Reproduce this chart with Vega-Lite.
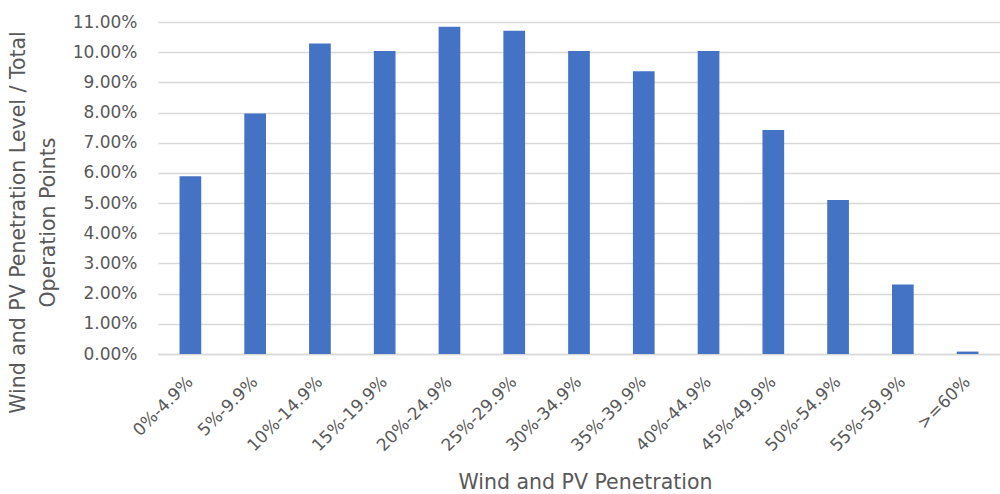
{
  "$schema": "https://vega.github.io/schema/vega-lite/v6.json",
  "width": 842,
  "height": 332,
  "autosize": "none",
  "padding": {"left": 158, "top": 22, "right": 0, "bottom": 140},
  "background": "white",
  "config": {
    "font": "DejaVu Sans",
    "view": {"stroke": null}
  },
  "data": {
    "values": [
      {"range": "0%-4.9%", "share": 0.0589},
      {"range": "5%-9.9%", "share": 0.0797},
      {"range": "10%-14.9%", "share": 0.1029},
      {"range": "15%-19.9%", "share": 0.1004},
      {"range": "20%-24.9%", "share": 0.1084},
      {"range": "25%-29.9%", "share": 0.1071},
      {"range": "30%-34.9%", "share": 0.1004},
      {"range": "35%-39.9%", "share": 0.0937},
      {"range": "40%-44.9%", "share": 0.1004},
      {"range": "45%-49.9%", "share": 0.0742},
      {"range": "50%-54.9%", "share": 0.0510},
      {"range": "55%-59.9%", "share": 0.0230},
      {"range": ">=60%", "share": 0.0008}
    ]
  },
  "mark": {"type": "bar", "color": "#4472C4"},
  "encoding": {
    "x": {
      "field": "range",
      "type": "nominal",
      "sort": null,
      "scale": {"paddingInner": 0.665, "paddingOuter": 0.3325},
      "axis": {
        "title": "Wind and PV Penetration",
        "titleFont": "DejaVu Sans",
        "titleFontSize": 20.5,
        "titleFontWeight": "normal",
        "titleColor": "#595959",
        "titleX": 427,
        "titleY": 128,
        "titleBaseline": "middle",
        "labelAngle": -45,
        "labelAlign": "right",
        "labelBaseline": "middle",
        "labelFontSize": 17,
        "labelColor": "#595959",
        "labelPadding": 25,
        "ticks": false,
        "domainColor": "#d9d9d9",
        "domainWidth": 1.5
      }
    },
    "y": {
      "field": "share",
      "type": "quantitative",
      "scale": {"domain": [0, 0.11], "nice": false},
      "axis": {
        "title": ["Wind and PV Penetration Level / Total", "Operation Points"],
        "titleFont": "DejaVu Sans",
        "titleFontSize": 20.5,
        "titleFontWeight": "normal",
        "titleColor": "#595959",
        "titleAngle": -90,
        "titleAlign": "center",
        "titleBaseline": "top",
        "titleLineHeight": 30,
        "titleX": -150,
        "titleY": 200,
        "format": ".2%",
        "values": [0, 0.01, 0.02, 0.03, 0.04, 0.05, 0.06, 0.07, 0.08, 0.09, 0.1, 0.11],
        "labelFontSize": 17,
        "labelColor": "#595959",
        "labelPadding": 21,
        "ticks": false,
        "domain": false,
        "grid": true,
        "gridColor": "#d9d9d9",
        "gridWidth": 1.5
      }
    }
  }
}
